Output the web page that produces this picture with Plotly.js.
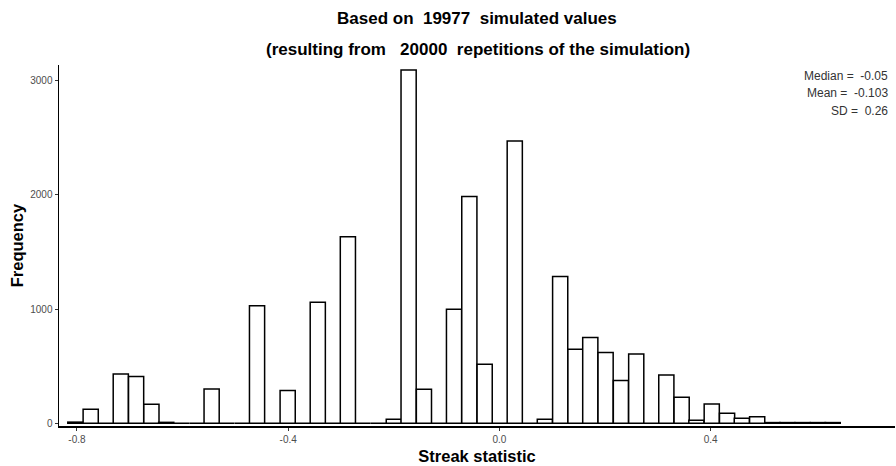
<!DOCTYPE html>
<html>
<head>
<meta charset="utf-8">
<script src="https://cdn.plot.ly/plotly-3.0.1.min.js"></script>
<style>html,body{margin:0;padding:0;background:#fff;}#chart{width:896px;height:466px;}</style>
</head>
<body>
<div id="chart"></div>
<script>
// Bin centres of the histogram (Streak statistic)
var binCenters = [-0.803,-0.774,-0.745,-0.717,-0.688,-0.659,-0.631,-0.602,-0.573,-0.545,
  -0.516,-0.487,-0.459,-0.430,-0.401,-0.373,-0.344,-0.315,-0.287,-0.258,
  -0.229,-0.200,-0.172,-0.143,-0.114,-0.086,-0.057,-0.028,0.000,0.029,
  0.058,0.086,0.115,0.144,0.172,0.201,0.230,0.259,0.287,0.316,
  0.345,0.373,0.402,0.431,0.459,0.488,0.517,0.545,0.574,0.603,0.631];
// Frequencies
var counts = [10,123,0,432,409,166,8,0,0,300,
  0,0,1030,0,286,0,1060,0,1634,0,
  0,35,3094,298,0,998,1985,517,0,2472,
  0,35,1284,648,750,619,374,607,0,423,
  228,26,169,88,44,58,6,6,6,6,6];
var binWidth = 0.0287;
var xTickVals = [-0.8,-0.4,0.0,0.4];
var xTickText = ["-0.8","-0.4","0.0","0.4"];
var yTickVals = [0,1000,2000,3000];
var titleLine1 = "Based on\u00a0\u00a019977\u00a0\u00a0simulated values";
var titleLine2 = "(resulting from\u00a0\u00a0\u00a020000\u00a0\u00a0repetitions of the simulation)";
var statLines = ["Median =\u00a0\u00a0-0.05", "Mean =\u00a0\u00a0-0.103", "SD =\u00a0\u00a00.26"];
var xTitle = "Streak statistic";
var yTitle = "Frequency";

var font = "Liberation Sans, Arial, sans-serif";

var trace = {
  type: "bar",
  x: binCenters,
  y: counts,
  width: binCenters.map(function(){return binWidth;}),
  marker: {color: "#ffffff", line: {color: "#000000", width: 1.5}},
  hoverinfo: "x+y"
};

var statY = [0.970, 0.922, 0.873];
var annotations = [
  {text: "<b>" + titleLine1 + "</b>", xref: "paper", yref: "paper", x: 0.500, y: 1.130,
   xanchor: "center", yanchor: "middle", showarrow: false, font: {family: font, size: 17, color: "#000"}},
  {text: "<b>" + titleLine2 + "</b>", xref: "paper", yref: "paper", x: 0.501, y: 1.044,
   xanchor: "center", yanchor: "middle", showarrow: false, font: {family: font, size: 17, color: "#000"}}
];
statLines.forEach(function(s, i){
  annotations.push({text: s, xref: "paper", yref: "paper", x: 0.9935, y: statY[i],
    xanchor: "right", yanchor: "middle", showarrow: false, font: {family: font, size: 12, color: "#333333"}});
});

var layout = {
  width: 896, height: 466,
  margin: {l: 59, r: 1, t: 65, b: 40, pad: 0},
  paper_bgcolor: "#ffffff", plot_bgcolor: "#ffffff",
  showlegend: false,
  bargap: 0,
  font: {family: font},
  xaxis: {
    range: [-0.834, 0.749],
    tickvals: xTickVals, ticktext: xTickText,
    ticks: "outside", ticklen: 3, tickcolor: "#333333", tickwidth: 1,
    tickfont: {family: font, size: 10, color: "#4d4d4d"},
    showline: true, linecolor: "#000000", linewidth: 1.5,
    showgrid: false, zeroline: false,
    title: {text: "<b>" + xTitle + "</b>", font: {family: font, size: 16.5, color: "#000"}, standoff: 7}
  },
  yaxis: {
    range: [-24, 3137],
    tickvals: yTickVals,
    ticks: "outside", ticklen: 3, tickcolor: "#333333", tickwidth: 1,
    tickfont: {family: font, size: 10, color: "#4d4d4d"},
    showline: true, linecolor: "#000000", linewidth: 1.5,
    showgrid: false, zeroline: false,
    title: {text: "<b>" + yTitle + "</b>", font: {family: font, size: 16.5, color: "#000"}, standoff: 2}
  },
  annotations: annotations
};

Plotly.newPlot("chart", [trace], layout, {displayModeBar: false, staticPlot: true});
</script>
</body>
</html>
